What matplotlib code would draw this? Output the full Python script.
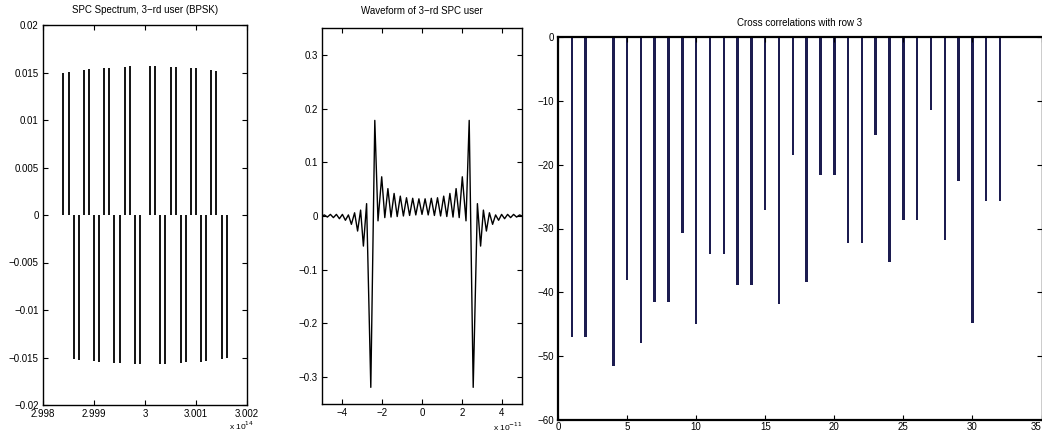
import numpy as np
import matplotlib
matplotlib.use("Agg")
import matplotlib.pyplot as plt

# spectrum lines, frequency in units of 1e14 Hz
spec_freq = [2.9984, 2.9985, 2.9986, 2.9987, 2.9988, 2.9989, 2.9990, 2.9991,
             2.9992, 2.9993, 2.9994, 2.9995, 2.9996, 2.9997, 2.9998, 2.9999,
             3.0001, 3.0002, 3.0003, 3.0004, 3.0005, 3.0006, 3.0007, 3.0008,
             3.0009, 3.0010, 3.0011, 3.0012, 3.0013, 3.0014, 3.0015, 3.0016]
spec_amp = [0.0150, 0.0151, -0.0152, -0.0153, 0.0153, 0.0154, -0.0154, -0.0155,
            0.0155, 0.0155, -0.0156, -0.0156, 0.0156, 0.0157, -0.0157, -0.0157,
            0.0157, 0.0157, -0.0157, -0.0157, 0.0156, 0.0156, -0.0156, -0.0155,
            0.0155, 0.0155, -0.0155, -0.0154, 0.0153, 0.0152, -0.0152, -0.0151]
spec_xticks = [2.998, 2.999, 3.0, 3.001, 3.002]
spec_xlabels = ["2.998", "2.999", "3", "3.001", "3.002"]
spec_yticks = [-0.02, -0.015, -0.01, -0.005, 0, 0.005, 0.01, 0.015, 0.02]
spec_ylabels = ["\u22120.02", "\u22120.015", "\u22120.01", "\u22120.005", "0",
                "0.005", "0.01", "0.015", "0.02"]

# waveform, time in units of 1e-11 s (read at extrema)
wave_t = [-5.00, -4.88, -4.73, -4.58, -4.43, -4.28, -4.13, -3.98, -3.83, -3.68,
          -3.53, -3.37, -3.22, -3.07, -2.93, -2.77, -2.56, -2.36, -2.20, -2.015,
          -1.86, -1.705, -1.55, -1.395, -1.24, -1.085, -0.93, -0.775, -0.62, -0.465,
          -0.31, -0.155, 0.00, 0.155, 0.31,
          0.465, 0.62, 0.775, 0.93, 1.085, 1.24, 1.395, 1.55, 1.705, 1.86,
          2.015, 2.20, 2.36, 2.56, 2.77, 2.93, 3.07, 3.22, 3.37, 3.53,
          3.68, 3.83, 3.98, 4.13, 4.28, 4.43, 4.58, 4.73, 4.88, 5.00]
wave_y = [0.000, 0.002, -0.002, 0.003, -0.003, 0.003, -0.005, 0.003, -0.008, 0.002,
          -0.0155, 0.006, -0.028, 0.011, -0.056, 0.023, -0.319, 0.178, -0.009, 0.073,
          -0.003, 0.051, -0.002, 0.042, -0.001, 0.037, 0.000, 0.034, 0.001, 0.033,
          0.002, 0.032, 0.003, 0.032, 0.002,
          0.033, 0.001, 0.034, 0.000, 0.037, -0.001, 0.042, -0.002, 0.051, -0.003,
          0.073, -0.009, 0.178, -0.319, 0.023, -0.056, 0.011, -0.028, 0.006, -0.0155,
          0.002, -0.008, 0.003, -0.005, 0.003, -0.003, 0.003, -0.002, 0.002, 0.000]
wave_yticks = [-0.3, -0.2, -0.1, 0, 0.1, 0.2, 0.3]
wave_ylabels = ["\u22120.3", "\u22120.2", "\u22120.1", "0", "0.1", "0.2", "0.3"]
wave_xticks = [-4, -2, 0, 2, 4]
wave_xlabels = ["\u22124", "\u22122", "0", "2", "4"]

# cross correlations (dB)
corr_idx = list(range(1, 33))
corr_db = [-47.0, -47.0, 0.0, -51.5, -38.1, -48.0, -41.5, -41.5, -30.7, -44.9,
           -34.0, -34.0, -38.9, -38.9, -27.1, -41.9, -18.5, -38.4, -21.6, -21.6,
           -32.3, -32.3, -15.3, -35.3, -28.7, -28.7, -11.5, -31.8, -22.6, -44.8,
           -25.7, -25.7]
corr_xticks = [0, 5, 10, 15, 20, 25, 30, 35]
corr_yticks = [-60, -50, -40, -30, -20, -10, 0]
corr_ylabels = ["\u221260", "\u221250", "\u221240", "\u221230", "\u221220", "\u221210", "0"]

W, H = 1042, 433


def matlab_axes(fig, x0, x1, top, bot):
    ax = fig.add_axes([x0 / W, (H - bot) / H, (x1 - x0) / W, (bot - top) / H])
    ax.tick_params(direction="in", top=True, right=True, length=3.5, width=0.8,
                   labelsize=7, pad=3)
    for s in ax.spines.values():
        s.set_linewidth(1.0)
    return ax


def main():
    plt.rcParams["font.family"] = ["Liberation Sans", "DejaVu Sans"]
    fig = plt.figure(figsize=(W / 100, H / 100), dpi=100)

    ax1 = matlab_axes(fig, 43, 247, 25, 405)
    ax1.vlines(spec_freq, 0, spec_amp, color="black", linewidth=1.3)
    ax1.set_xlim(2.998, 3.002)
    ax1.set_ylim(-0.02, 0.02)
    ax1.set_xticks(spec_xticks)
    ax1.set_xticklabels(spec_xlabels)
    ax1.set_yticks(spec_yticks)
    ax1.set_yticklabels(spec_ylabels)
    ax1.set_title("SPC Spectrum, 3\u2212rd user (BPSK)", fontsize=7, pad=9)
    ax1.text(0.975, -0.072, "x 10$^{14}$", transform=ax1.transAxes, fontsize=6,
             ha="center", va="bottom")

    ax2 = matlab_axes(fig, 322, 522, 28, 404)
    ax2.plot(wave_t, wave_y, color="black", linewidth=1.0)
    ax2.set_xlim(-5, 5)
    ax2.set_ylim(-0.35, 0.35)
    ax2.set_xticks(wave_xticks)
    ax2.set_xticklabels(wave_xlabels)
    ax2.set_yticks(wave_yticks)
    ax2.set_yticklabels(wave_ylabels)
    ax2.set_title("Waveform of 3\u2212rd SPC user", fontsize=7, pad=10)
    ax2.text(0.93, -0.076, "x 10$^{-11}$", transform=ax2.transAxes, fontsize=6,
             ha="center", va="bottom")

    ax3 = matlab_axes(fig, 558, 1041.5, 37, 420)
    ax3.bar(corr_idx, corr_db, width=0.18, color="#1c1c50", edgecolor="none")
    ax3.set_xlim(0, 35)
    ax3.set_ylim(-60, 0)
    ax3.set_xticks(corr_xticks)
    labels = ax3.set_xticklabels([str(v) for v in corr_xticks])
    labels[-1].set_horizontalalignment("right")
    ax3.set_yticks(corr_yticks)
    ax3.set_yticklabels(corr_ylabels)
    ax3.tick_params(axis="x", pad=1.5)
    ax3.spines["top"].set_linewidth(1.6)
    ax3.spines["bottom"].set_linewidth(1.6)
    ax3.spines["left"].set_linewidth(1.6)
    ax3.set_title("Cross correlations with row 3", fontsize=7, pad=8)

    fig.savefig("out.png", dpi=100)


if __name__ == "__main__":
    main()
